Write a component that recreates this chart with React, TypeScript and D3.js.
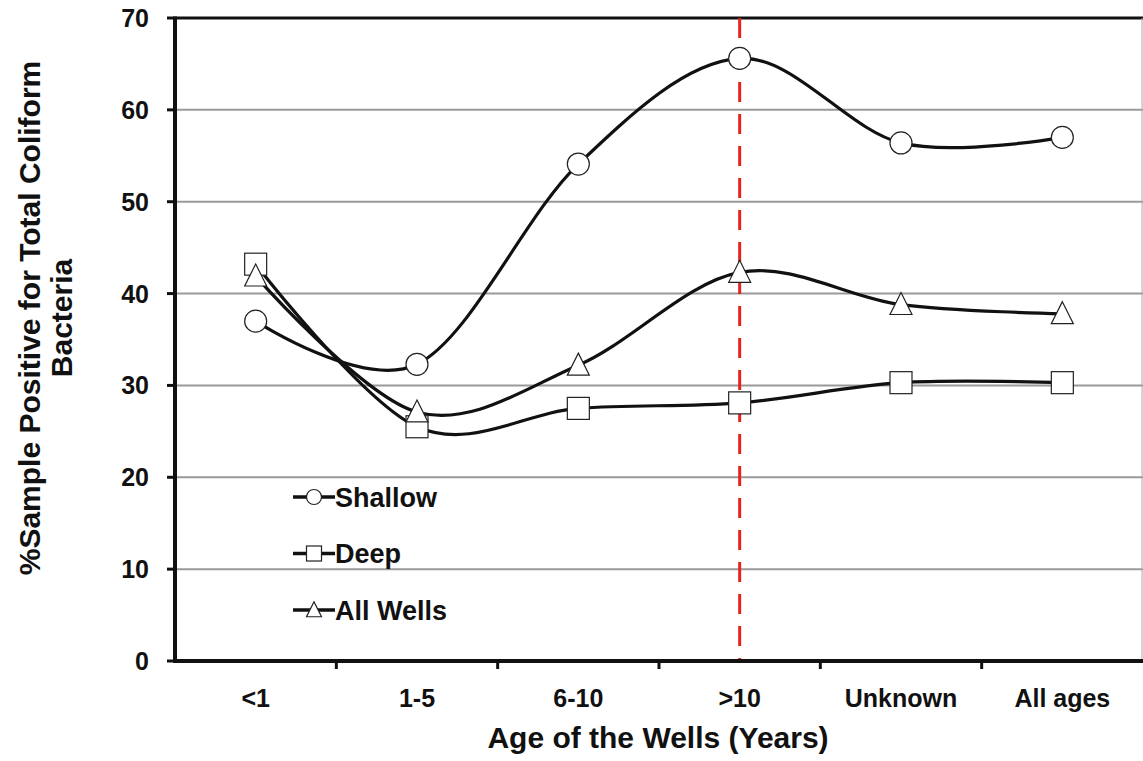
import React from 'react';
import * as d3 from 'd3';

const categories = ['<1', '1-5', '6-10', '>10', 'Unknown', 'All ages'];
const shallow = [37.0, 32.3, 54.1, 65.6, 56.4, 57.0];
const deep = [43.2, 25.5, 27.5, 28.1, 30.3, 30.3];
const allWells = [41.9, 27.1, 32.2, 42.3, 38.8, 37.8];
const yTicks = [0, 10, 20, 30, 40, 50, 60, 70];
const markedCategory = '>10';

const W = 1143;
const H = 761;
const margin = { top: 18, right: 0, bottom: 100, left: 175 };
const font = 'Arial, "Liberation Sans", Helvetica, sans-serif';

const x = d3
  .scaleBand()
  .domain(categories)
  .range([margin.left, W - margin.right])
  .padding(0);
const y = d3
  .scaleLinear()
  .domain([0, 70])
  .range([H - margin.bottom, margin.top]);

const line = d3
  .line<number>()
  .x((_, i) => x(categories[i])! + x.bandwidth() / 2)
  .y((d) => y(d))
  .curve(d3.curveCardinal.tension(0));

const Marker = ({ kind, cx, cy, s }: { kind: string; cx: number; cy: number; s: number }) => {
  if (kind === 'circle')
    return <circle cx={cx} cy={cy} r={s} fill="white" stroke="#222" strokeWidth={1.2} />;
  if (kind === 'square')
    return (
      <rect x={cx - s} y={cy - s} width={s * 2} height={s * 2} fill="white" stroke="#222" strokeWidth={1.2} />
    );
  const h = s * 2;
  return (
    <polygon
      points={`${cx},${cy - h * 0.55} ${cx + s},${cy + h * 0.45} ${cx - s},${cy + h * 0.45}`}
      fill="white"
      stroke="#222"
      strokeWidth={1.2}
    />
  );
};

const series = [
  { name: 'Shallow', values: shallow, kind: 'circle' },
  { name: 'Deep', values: deep, kind: 'square' },
  { name: 'All Wells', values: allWells, kind: 'triangle' },
];

export default function App() {
  const x0 = margin.left;
  const x1 = W - margin.right;
  const yb = y(0);
  const boundaries = categories.slice(1).map((c) => x(c)!);
  const xm = x(markedCategory)! + x.bandwidth() / 2;

  return (
    <svg width={W} height={H} style={{ position: 'absolute', left: 0, top: 0 }} fontFamily={font}>
      <rect width={W} height={H} fill="white" />
      {/* grid */}
      {yTicks.slice(1, -1).map((t) => (
        <line key={t} x1={x0} x2={x1} y1={y(t)} y2={y(t)} stroke="#999" strokeWidth={2} />
      ))}
      <line x1={x0} x2={x1} y1={y(70)} y2={y(70)} stroke="#111" strokeWidth={3} />
      <line x1={x1 - 1} x2={x1 - 1} y1={y(70)} y2={yb} stroke="#aaa" strokeWidth={1} />

      {/* red dashed marker */}
      <line x1={xm} x2={xm} y1={y(70)} y2={yb} stroke="#e8231e" strokeWidth={3} strokeDasharray="20 12" />

      {/* series */}
      {series.map((s) => (
        <path key={s.name} d={line(s.values)!} fill="none" stroke="#111" strokeWidth={3.2} />
      ))}
      {series.map((s) =>
        s.values.map((v, i) => (
          <Marker key={s.name + i} kind={s.kind} cx={x(categories[i])! + x.bandwidth() / 2} cy={y(v)} s={11} />
        ))
      )}

      {/* axes */}
      <line x1={x0} x2={x0} y1={y(70) - 1.5} y2={yb + 2} stroke="#111" strokeWidth={4} />
      <line x1={x0 - 2} x2={x1} y1={yb} y2={yb} stroke="#111" strokeWidth={4} />
      {yTicks.map((t) => (
        <g key={t}>
          <line x1={x0 - 8} x2={x0} y1={y(t)} y2={y(t)} stroke="#111" strokeWidth={3} />
          <text x={x0 - 26} y={y(t)} dy="0.36em" textAnchor="end" fontSize={25} fontWeight="bold" fill="#111">
            {t}
          </text>
        </g>
      ))}
      {boundaries.map((b) => (
        <line key={b} x1={b} x2={b} y1={yb} y2={yb + 8} stroke="#111" strokeWidth={3} />
      ))}
      {categories.map((c) => (
        <text
          key={c}
          x={x(c)! + x.bandwidth() / 2}
          y={yb + 46}
          textAnchor="middle"
          fontSize={25}
          fontWeight="bold"
          fill="#111"
        >
          {c}
        </text>
      ))}

      {/* titles */}
      <text x={658} y={748} textAnchor="middle" fontSize={30} fontWeight="bold" fill="#111">
        Age of the Wells (Years)
      </text>
      <g transform={`translate(40, 318) rotate(-90)`}>
        <text x={0} y={0} textAnchor="middle" fontSize={30} fontWeight="bold" fill="#111">
          %Sample Positive for Total Coliform
        </text>
        <text x={0} y={32} textAnchor="middle" fontSize={30} fontWeight="bold" fill="#111">
          Bacteria
        </text>
      </g>

      {/* legend */}
      {series.map((s, i) => {
        const ly = 497 + i * 56.5;
        return (
          <g key={s.name}>
            <line x1={293} x2={335} y1={ly} y2={ly} stroke="#111" strokeWidth={3.5} />
            <Marker kind={s.kind} cx={314} cy={ly} s={7.5} />
            <text x={335} y={ly} dy="0.36em" fontSize={27} fontWeight="bold" fill="#111">
              {s.name}
            </text>
          </g>
        );
      })}
    </svg>
  );
}
